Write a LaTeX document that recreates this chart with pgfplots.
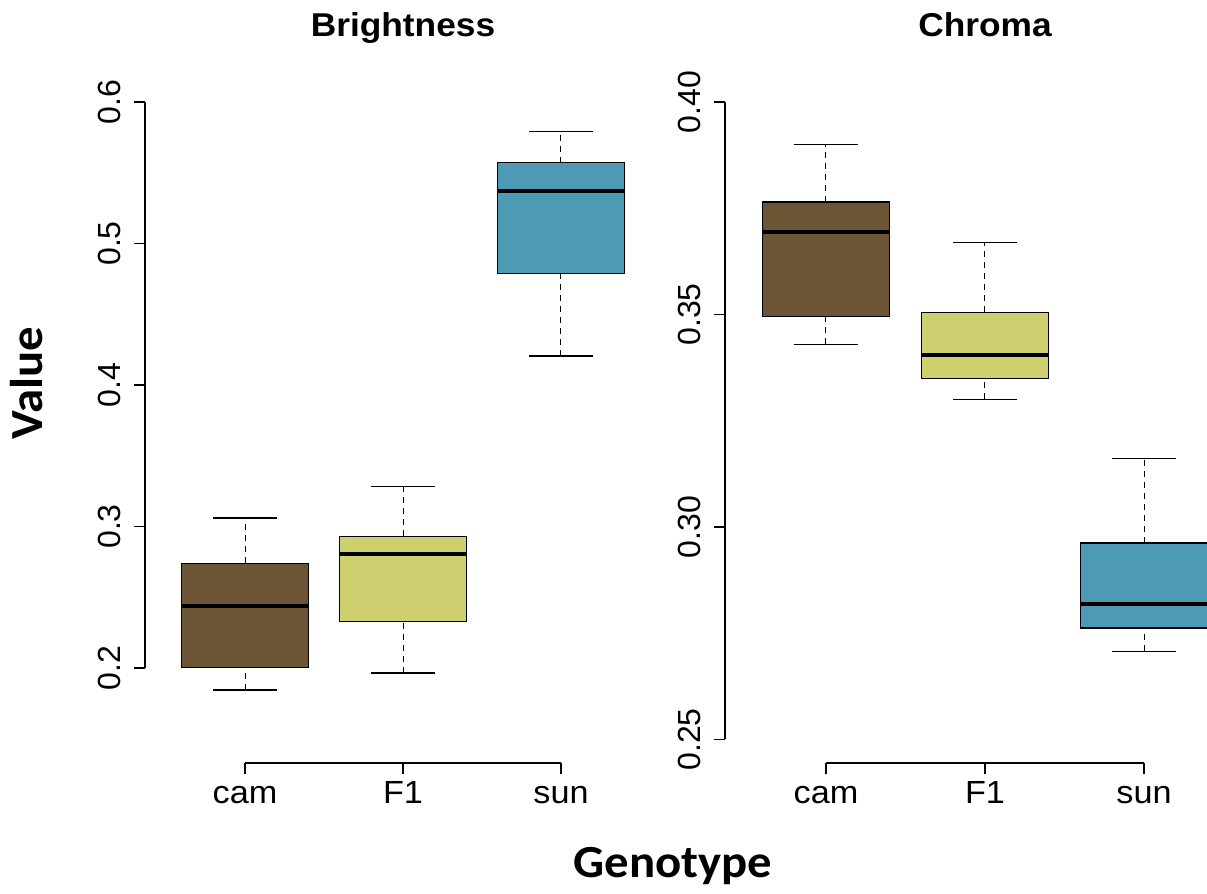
\documentclass[border=0pt]{standalone}
\usepackage{pgfplots}
\pgfplotsset{compat=1.18}
\usepgfplotslibrary{statistics}
\usepackage{fontspec}
\setmainfont{Liberation Sans}
\newfontfamily\widesans[FakeStretch=1.07]{Liberation Sans}
\newfontfamily\carlito[FakeStretch=1.06]{Carlito}
\definecolor{camcol}{RGB}{107,85,52}
\definecolor{fonecol}{RGB}{206,208,112}
\definecolor{suncol}{RGB}{76,154,180}

\pgfplotsset{
  rpanel/.style={
    scale only axis,
    width=258pt, height=330.5pt,
    axis x line*=bottom, axis y line*=left,
    axis line style={draw=none},
    tick align=outside,
    major tick length=5.5pt,
    tick style={black, line width=0.6pt},
    xtick={0,1,2},
    xticklabels={\strut cam,\strut F1,\strut sun},
    clip=false,
    ticklabel style={font=\fontsize{16}{19}\selectfont},
    yticklabel style={rotate=90, anchor=south, inner sep=0pt},
    yticklabel shift=6.5pt,
    xticklabel style={anchor=north, inner sep=0pt, yshift=-1.2pt, font=\widesans\fontsize{16}{19}\selectfont},
    boxplot/draw direction=y,
    boxplot/box extend=0.8,
    boxplot/whisker extend=0.4,
    boxplot/every box/.style={draw=black, line width=0.65pt},
    boxplot/every median/.style={draw=black, line width=2.2pt},
    boxplot/draw/lower whisker/.code={%
      \draw[black, fill=none, line width=0.5pt, dash pattern=on 3pt off 2.5pt]
        (boxplot cs:\pgfplotsboxplotvalue{lower whisker}) --
        (boxplot cs:\pgfplotsboxplotvalue{lower quartile});
      \draw[black, fill=none, line width=0.55pt, solid]
        (boxplot whisker cs:\pgfplotsboxplotvalue{lower whisker},0) --
        (boxplot whisker cs:\pgfplotsboxplotvalue{lower whisker},1);
    },
    boxplot/draw/upper whisker/.code={%
      \draw[black, fill=none, line width=0.5pt, dash pattern=on 3pt off 2.5pt]
        (boxplot cs:\pgfplotsboxplotvalue{upper quartile}) --
        (boxplot cs:\pgfplotsboxplotvalue{upper whisker});
      \draw[black, fill=none, line width=0.55pt, solid]
        (boxplot whisker cs:\pgfplotsboxplotvalue{upper whisker},0) --
        (boxplot whisker cs:\pgfplotsboxplotvalue{upper whisker},1);
    },
  }
}

\begin{document}
\begin{tikzpicture}
% ---------------- Brightness ----------------
\begin{axis}[rpanel,
  at={(72.5pt,65.5pt)}, anchor=south west,
  xmin=-0.633, xmax=2.633,
  ymin=0.1329, ymax=0.6,
  ytick={0.2,0.3,0.4,0.5,0.6},
  yticklabels={0.2,0.3,0.4,0.5,0.6},
]
\addplot[fill=camcol, draw=black, boxplot prepared={draw position=0,
  lower whisker=0.1845, lower quartile=0.2005, median=0.244,
  upper quartile=0.274, upper whisker=0.306}] coordinates {};
\addplot[fill=fonecol, draw=black, boxplot prepared={draw position=1,
  lower whisker=0.1965, lower quartile=0.233, median=0.2805,
  upper quartile=0.293, upper whisker=0.328}] coordinates {};
\addplot[fill=suncol, draw=black, boxplot prepared={draw position=2,
  lower whisker=0.4205, lower quartile=0.479, median=0.537,
  upper quartile=0.557, upper whisker=0.579}] coordinates {};
\draw[black, line width=0.6pt] (axis cs:-0.633,0.2) -- (axis cs:-0.633,0.6);
\draw[black, line width=0.6pt] (axis cs:0,0.1329) -- (axis cs:2,0.1329);
\end{axis}
% ---------------- Chroma ----------------
\begin{axis}[rpanel,
  at={(362.5pt,65.5pt)}, anchor=south west,
  xmin=-0.635, xmax=2.610,
  ymin=0.24447, ymax=0.40,
  ytick={0.25,0.30,0.35,0.40},
  yticklabels={0.25,0.30,0.35,0.40},
]
\addplot[fill=camcol, draw=black, boxplot prepared={draw position=0,
  lower whisker=0.343, lower quartile=0.3496, median=0.3694,
  upper quartile=0.3765, upper whisker=0.3899}] coordinates {};
\addplot[fill=fonecol, draw=black, boxplot prepared={draw position=1,
  lower whisker=0.330, lower quartile=0.335, median=0.3405,
  upper quartile=0.3505, upper whisker=0.367}] coordinates {};
\addplot[fill=suncol, draw=black, boxplot prepared={draw position=2,
  lower whisker=0.2708, lower quartile=0.2762, median=0.2819,
  upper quartile=0.2962, upper whisker=0.3162}] coordinates {};
\draw[black, line width=0.6pt] (axis cs:-0.635,0.25) -- (axis cs:-0.635,0.40);
\draw[black, line width=0.6pt] (axis cs:0,0.24447) -- (axis cs:2,0.24447);
\end{axis}
% ---------------- titles and labels ----------------
\node[anchor=base, inner sep=0pt, font=\widesans\fontsize{16.5}{19}\selectfont\bfseries] at (201.5pt,428.5pt) {Brightness};
\node[anchor=base, inner sep=0pt, font=\widesans\fontsize{16.5}{19}\selectfont\bfseries] at (492.5pt,428.5pt) {Chroma};
\node[anchor=base, inner sep=0pt, font=\carlito\bfseries\fontsize{23}{27}\selectfont] at (336.5pt,8pt) {Genotype};
\node[anchor=base, inner sep=0pt, rotate=90, font=\carlito\bfseries\fontsize{23}{27}\selectfont] at (21pt,255.5pt) {Value};
\pgfresetboundingbox
\useasboundingbox (0pt,0pt) rectangle (603.5pt,447pt);
\end{tikzpicture}
\end{document}
